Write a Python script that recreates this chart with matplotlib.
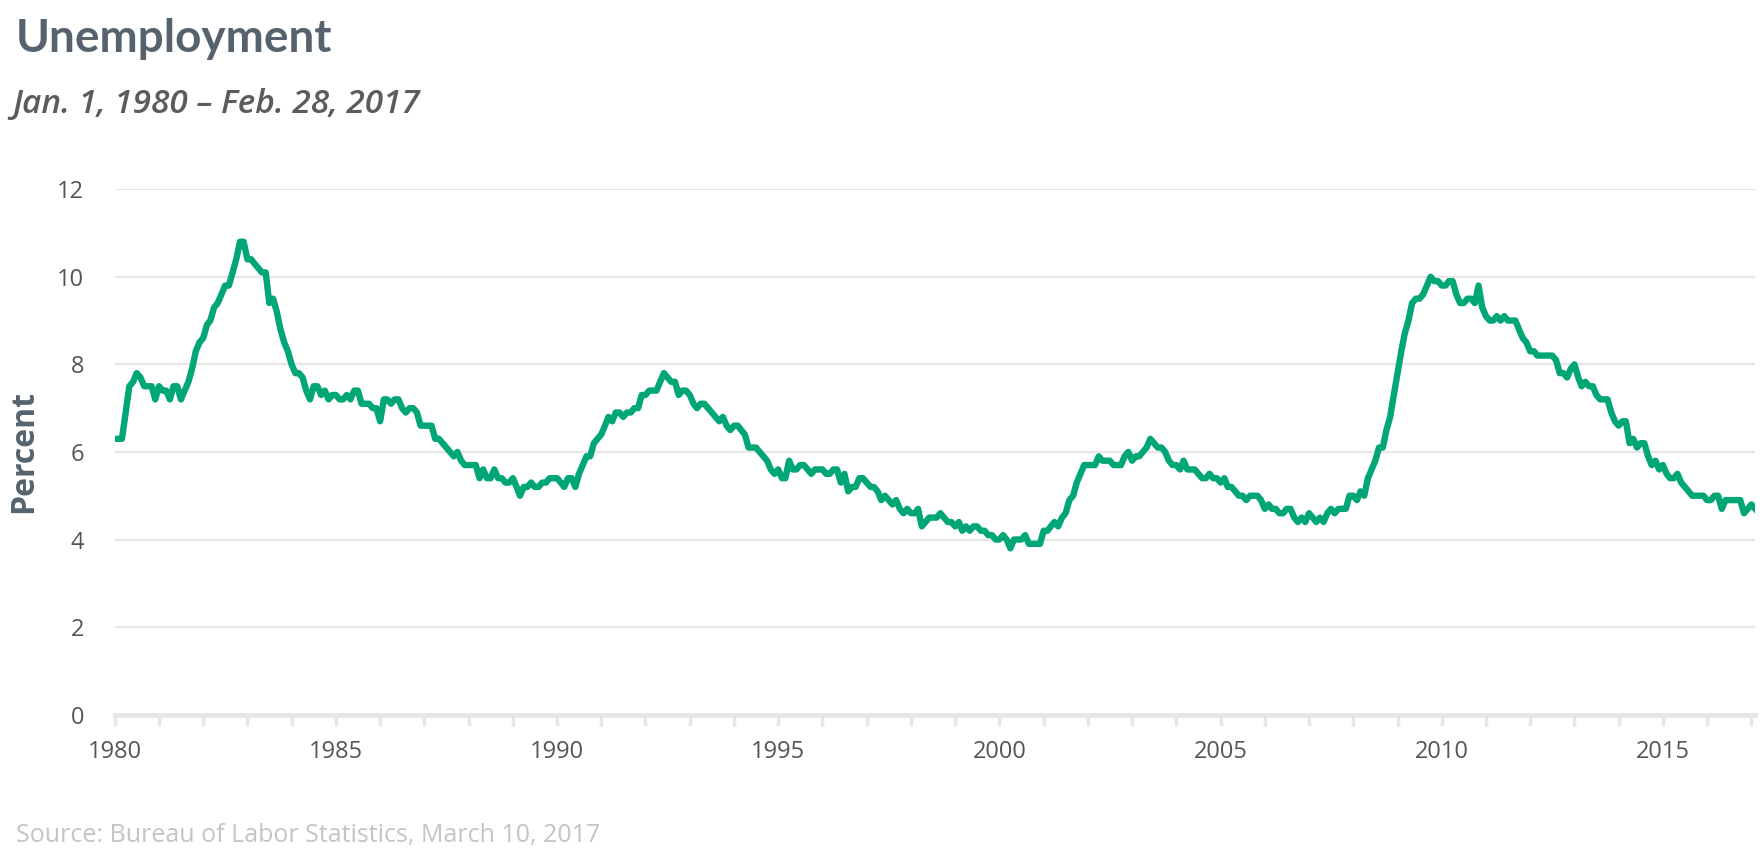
import pandas as pd
import matplotlib.pyplot as plt
import matplotlib.dates as mdates

# Monthly unemployment rate (percent), Jan 1980 - Feb 2017
rate_1980s = [
    6.3, 6.3, 6.3, 6.9, 7.5, 7.6, 7.8, 7.7, 7.5, 7.5, 7.5, 7.2,   # 1980
    7.5, 7.4, 7.4, 7.2, 7.5, 7.5, 7.2, 7.4, 7.6, 7.9, 8.3, 8.5,   # 1981
    8.6, 8.9, 9.0, 9.3, 9.4, 9.6, 9.8, 9.8, 10.1, 10.4, 10.8, 10.8,  # 1982
    10.4, 10.4, 10.3, 10.2, 10.1, 10.1, 9.4, 9.5, 9.2, 8.8, 8.5, 8.3,  # 1983
    8.0, 7.8, 7.8, 7.7, 7.4, 7.2, 7.5, 7.5, 7.3, 7.4, 7.2, 7.3,   # 1984
    7.3, 7.2, 7.2, 7.3, 7.2, 7.4, 7.4, 7.1, 7.1, 7.1, 7.0, 7.0,   # 1985
    6.7, 7.2, 7.2, 7.1, 7.2, 7.2, 7.0, 6.9, 7.0, 7.0, 6.9, 6.6,   # 1986
    6.6, 6.6, 6.6, 6.3, 6.3, 6.2, 6.1, 6.0, 5.9, 6.0, 5.8, 5.7,   # 1987
    5.7, 5.7, 5.7, 5.4, 5.6, 5.4, 5.4, 5.6, 5.4, 5.4, 5.3, 5.3,   # 1988
    5.4, 5.2, 5.0, 5.2, 5.2, 5.3, 5.2, 5.2, 5.3, 5.3, 5.4, 5.4,   # 1989
]
rate_1990s = [
    5.4, 5.3, 5.2, 5.4, 5.4, 5.2, 5.5, 5.7, 5.9, 5.9, 6.2, 6.3,   # 1990
    6.4, 6.6, 6.8, 6.7, 6.9, 6.9, 6.8, 6.9, 6.9, 7.0, 7.0, 7.3,   # 1991
    7.3, 7.4, 7.4, 7.4, 7.6, 7.8, 7.7, 7.6, 7.6, 7.3, 7.4, 7.4,   # 1992
    7.3, 7.1, 7.0, 7.1, 7.1, 7.0, 6.9, 6.8, 6.7, 6.8, 6.6, 6.5,   # 1993
    6.6, 6.6, 6.5, 6.4, 6.1, 6.1, 6.1, 6.0, 5.9, 5.8, 5.6, 5.5,   # 1994
    5.6, 5.4, 5.4, 5.8, 5.6, 5.6, 5.7, 5.7, 5.6, 5.5, 5.6, 5.6,   # 1995
    5.6, 5.5, 5.5, 5.6, 5.6, 5.3, 5.5, 5.1, 5.2, 5.2, 5.4, 5.4,   # 1996
    5.3, 5.2, 5.2, 5.1, 4.9, 5.0, 4.9, 4.8, 4.9, 4.7, 4.6, 4.7,   # 1997
    4.6, 4.6, 4.7, 4.3, 4.4, 4.5, 4.5, 4.5, 4.6, 4.5, 4.4, 4.4,   # 1998
    4.3, 4.4, 4.2, 4.3, 4.2, 4.3, 4.3, 4.2, 4.2, 4.1, 4.1, 4.0,   # 1999
]
rate_2000s = [
    4.0, 4.1, 4.0, 3.8, 4.0, 4.0, 4.0, 4.1, 3.9, 3.9, 3.9, 3.9,   # 2000
    4.2, 4.2, 4.3, 4.4, 4.3, 4.5, 4.6, 4.9, 5.0, 5.3, 5.5, 5.7,   # 2001
    5.7, 5.7, 5.7, 5.9, 5.8, 5.8, 5.8, 5.7, 5.7, 5.7, 5.9, 6.0,   # 2002
    5.8, 5.9, 5.9, 6.0, 6.1, 6.3, 6.2, 6.1, 6.1, 6.0, 5.8, 5.7,   # 2003
    5.7, 5.6, 5.8, 5.6, 5.6, 5.6, 5.5, 5.4, 5.4, 5.5, 5.4, 5.4,   # 2004
    5.3, 5.4, 5.2, 5.2, 5.1, 5.0, 5.0, 4.9, 5.0, 5.0, 5.0, 4.9,   # 2005
    4.7, 4.8, 4.7, 4.7, 4.6, 4.6, 4.7, 4.7, 4.5, 4.4, 4.5, 4.4,   # 2006
    4.6, 4.5, 4.4, 4.5, 4.4, 4.6, 4.7, 4.6, 4.7, 4.7, 4.7, 5.0,   # 2007
    5.0, 4.9, 5.1, 5.0, 5.4, 5.6, 5.8, 6.1, 6.1, 6.5, 6.8, 7.3,   # 2008
    7.8, 8.3, 8.7, 9.0, 9.4, 9.5, 9.5, 9.6, 9.8, 10.0, 9.9, 9.9,  # 2009
]
rate_2010s = [
    9.8, 9.8, 9.9, 9.9, 9.6, 9.4, 9.4, 9.5, 9.5, 9.4, 9.8, 9.3,   # 2010
    9.1, 9.0, 9.0, 9.1, 9.0, 9.1, 9.0, 9.0, 9.0, 8.8, 8.6, 8.5,   # 2011
    8.3, 8.3, 8.2, 8.2, 8.2, 8.2, 8.2, 8.1, 7.8, 7.8, 7.7, 7.9,   # 2012
    8.0, 7.7, 7.5, 7.6, 7.5, 7.5, 7.3, 7.2, 7.2, 7.2, 6.9, 6.7,   # 2013
    6.6, 6.7, 6.7, 6.2, 6.3, 6.1, 6.2, 6.2, 5.9, 5.7, 5.8, 5.6,   # 2014
    5.7, 5.5, 5.4, 5.4, 5.5, 5.3, 5.2, 5.1, 5.0, 5.0, 5.0, 5.0,   # 2015
    4.9, 4.9, 5.0, 5.0, 4.7, 4.9, 4.9, 4.9, 4.9, 4.9, 4.6, 4.7,   # 2016
    4.8, 4.7,                                                     # 2017
]
rates = rate_1980s + rate_1990s + rate_2000s + rate_2010s
months = pd.date_range("1980-01-01", periods=len(rates), freq="MS")

y_ticks = [0, 2, 4, 6, 8, 10, 12]

# Colours
green = "#00a676"
slate = "#56636f"
tick_grey = "#555555"
grid_grey = "#e6e6e6"

fig = plt.figure(figsize=(17.64, 8.6), dpi=100)
ax = fig.add_axes([0.065, 0.169, 0.93, 0.611])

ax.plot(months, rates, color=green, lw=4.6, solid_joinstyle="round", zorder=3)

ax.set_ylim(0, 12)
ax.set_xlim(months[0], months[-1])
ax.set_yticks(y_ticks)
ax.grid(axis="y", color=grid_grey, lw=1.6)
ax.set_axisbelow(True)

for side in ["top", "right", "left"]:
    ax.spines[side].set_visible(False)
ax.spines["bottom"].set_color(grid_grey)
ax.spines["bottom"].set_linewidth(3.5)

ax.xaxis.set_major_locator(mdates.YearLocator(5))
ax.xaxis.set_minor_locator(mdates.YearLocator(1))
ax.xaxis.set_major_formatter(mdates.DateFormatter("%Y"))
ax.tick_params(axis="x", which="both", length=8, width=2.5, color=grid_grey,
               labelsize=17, labelcolor=tick_grey, pad=10)
ax.tick_params(axis="y", length=0, labelsize=17, labelcolor=tick_grey, pad=22)
for lbl in ax.get_xticklabels() + ax.get_yticklabels():
    lbl.set_family("Open Sans")

ax.set_ylabel("Percent", fontsize=23, fontweight="bold", color=slate,
              family="Open Sans", labelpad=12)

fig.text(0.009, 0.955, "Unemployment", fontsize=33, fontweight="bold",
         color=slate, family="Lato", va="center", ha="left")
fig.text(0.007, 0.878, "Jan. 1, 1980 \u2013 Feb. 28, 2017", fontsize=24,
         style="italic", fontweight="semibold", color="#5c5c5c",
         family="Open Sans", va="center", ha="left")
fig.text(0.009, 0.029, "Source: Bureau of Labor Statistics, March 10, 2017",
         fontsize=18, color="#c4c4c4", family="Open Sans", va="center", ha="left")

fig.savefig("out.png", dpi=100)
